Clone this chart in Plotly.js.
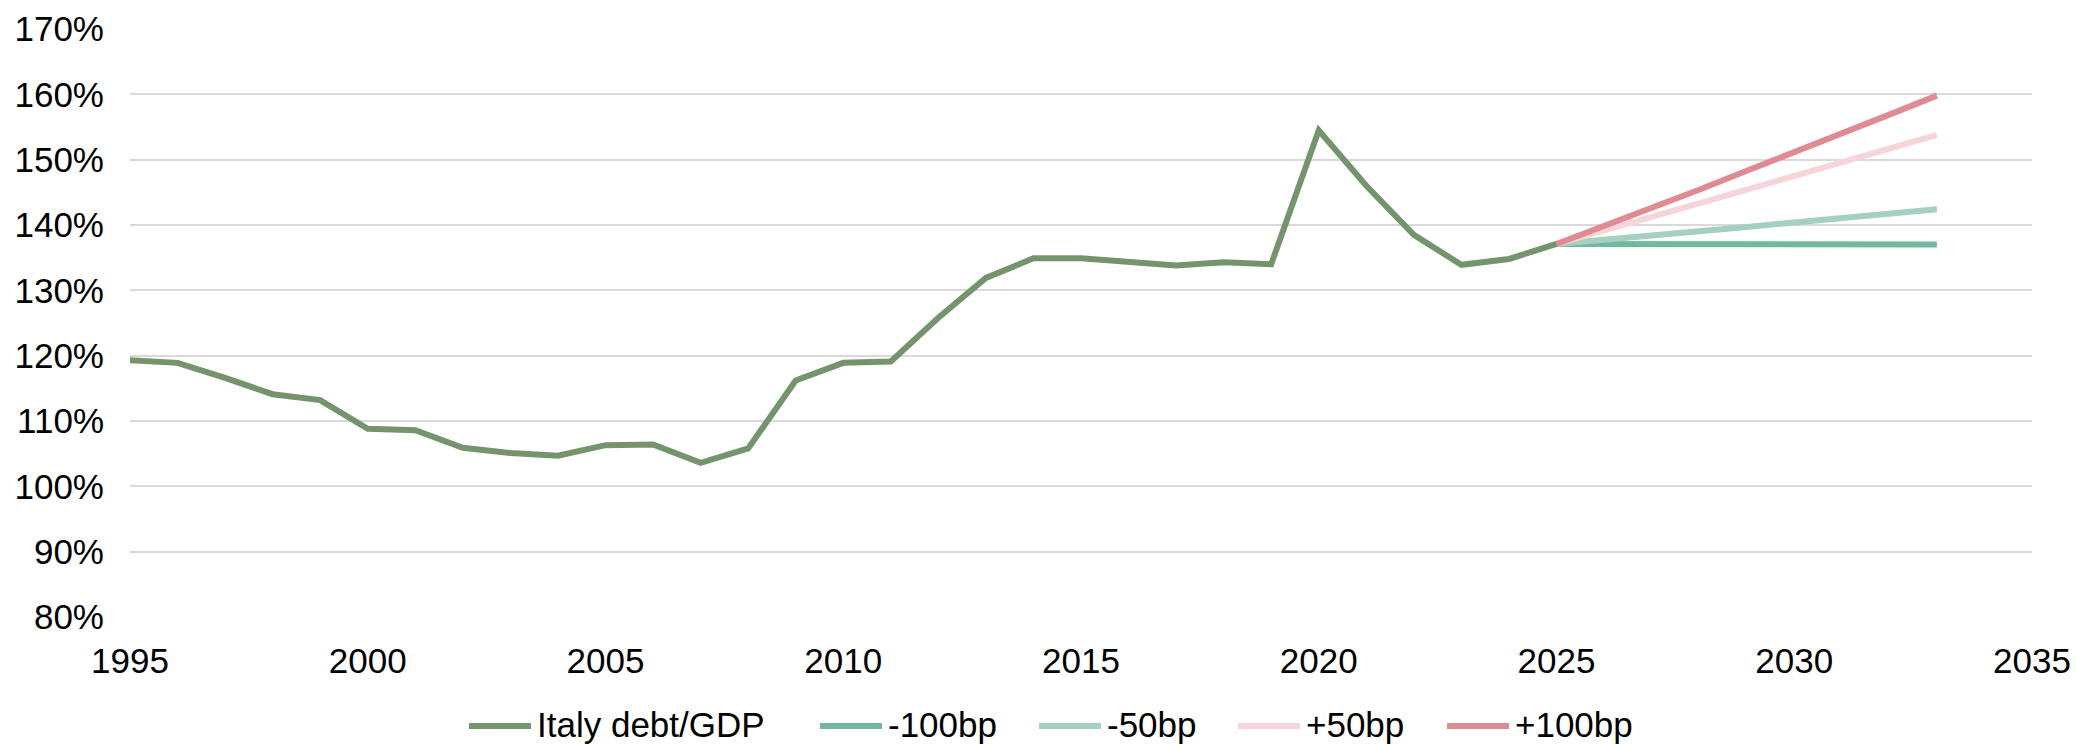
<!DOCTYPE html>
<html>
<head>
<meta charset="utf-8">
<script src="https://cdn.plot.ly/plotly-3.0.1.min.js"></script>
<style>html,body{margin:0;padding:0;background:#fff;}#chart{width:2076px;height:745px;}</style>
</head>
<body>
<div id="chart"></div>
<script>
const histYears = [1995,1996,1997,1998,1999,2000,2001,2002,2003,2004,2005,2006,2007,2008,2009,2010,2011,2012,2013,2014,2015,2016,2017,2018,2019,2020,2021,2022,2023,2024,2025];
const italyDebt = [119.3,118.9,116.6,114.1,113.2,108.8,108.6,105.9,105.1,104.7,106.3,106.4,103.6,105.8,116.2,118.9,119.1,125.8,131.9,134.9,134.9,134.3,133.8,134.3,134.0,154.5,146.0,138.5,133.9,134.8,137.1];
const projYears = [2025,2026,2027,2028,2029,2030,2031,2032,2033];
const minus100 = [137.1,137.1,137.1,137.1,137.0,137.0,137.0,137.0,137.0];
const minus50 = [137.1,137.7,138.4,139.1,139.7,140.4,141.1,141.7,142.4];
const plus50 = [137.1,139.1,141.2,143.3,145.4,147.5,149.6,151.7,153.8];
const plus100 = [137.1,139.8,142.6,145.4,148.3,151.1,154.0,156.9,159.8];
const seriesNames = ["Italy debt/GDP","-100bp","-50bp","+50bp","+100bp"];
const colors = ["#75946d","#72b89c","#a3d0bf","#f5d5d9","#e08b93"];

const W = 2076, H = 745;
const M = {l:130, r:44, t:29, b:128};
const plotW = W - M.l - M.r, plotH = H - M.t - M.b;

const mk = (x,y,i) => ({x:x,y:y,name:seriesNames[i],type:"scatter",mode:"lines",
  line:{color:colors[i],width:6,shape:"linear"},showlegend:false});
const data = [
  mk(projYears,minus100,1),
  mk(projYears,minus50,2),
  mk(projYears,plus50,3),
  mk(projYears,plus100,4),
  mk(histYears,italyDebt,0)
];

const font = {family:"Liberation Sans, Arial, sans-serif", size:35, color:"#000"};

// custom legend (long line swatches like the original)
const legendStartPx = [469, 820, 1039, 1238, 1447];
const legendYpx = 724;
const swatchLen = 62;
const px2x = p => (p - M.l) / plotW;
const py2y = p => (H - M.b - p) / plotH;
const shapes = [], annotations = [];
seriesNames.forEach((n,i) => {
  const s = legendStartPx[i];
  shapes.push({type:"line", xref:"paper", yref:"paper", x0:px2x(s), x1:px2x(s+swatchLen),
    y0:py2y(legendYpx+2), y1:py2y(legendYpx+2), line:{color:colors[i], width:6}});
  annotations.push({xref:"paper", yref:"paper", x:px2x(s+swatchLen+5), y:py2y(legendYpx),
    xanchor:"left", yanchor:"middle", text:n, showarrow:false, font:font, borderpad:0});
});

const layout = {
  width:W, height:H,
  margin:{l:M.l,r:M.r,t:M.t,b:M.b,autoexpand:false},
  paper_bgcolor:"#fff", plot_bgcolor:"#fff",
  font:font,
  showlegend:false,
  shapes:shapes, annotations:annotations,
  xaxis:{range:[1995,2035],dtick:5,tick0:1995,showgrid:false,zeroline:false,showline:false,
    ticks:"",tickfont:font,ticklabelstandoff:20,fixedrange:true,automargin:false},
  yaxis:{range:[80,170],dtick:10,tick0:80,ticksuffix:"%",showgrid:true,gridcolor:"#d9d9d9",gridwidth:2,
    zeroline:false,showline:false,ticks:"",tickfont:font,ticklabelstandoff:25,fixedrange:true,automargin:false}
};
Plotly.newPlot("chart",data,layout,{displayModeBar:false,staticPlot:true});
</script>
</body>
</html>
